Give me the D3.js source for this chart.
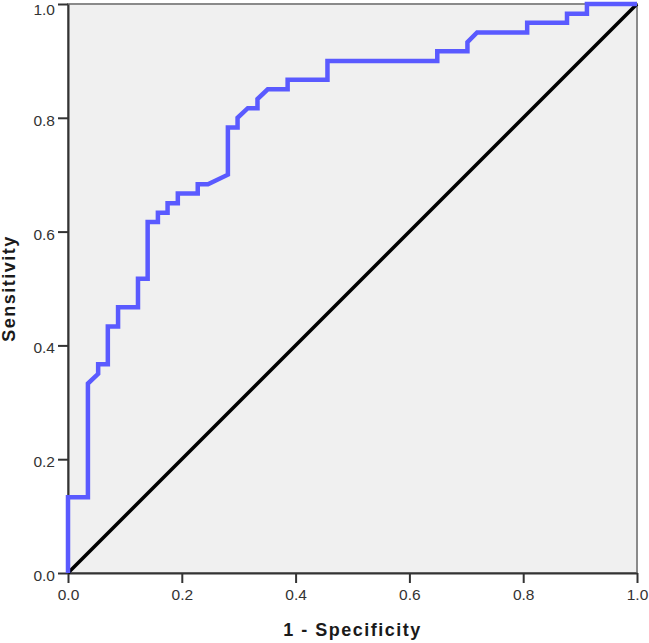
<!DOCTYPE html>
<html>
<head>
<meta charset="utf-8">
<script src="https://cdn.jsdelivr.net/npm/d3@7"></script>
<style>
  html, body { margin: 0; padding: 0; background: #fff; }
  svg { display: block; font-family: "Liberation Sans", Arial, sans-serif; }
</style>
</head>
<body>
<svg id="roc"></svg>
<script>
// ROC curve vertices (1 - specificity, sensitivity)
const fpr = [0, 0, 0.035, 0.035, 0.053, 0.053, 0.070, 0.070, 0.088, 0.088,
  0.123, 0.123, 0.140, 0.140, 0.158, 0.158, 0.175, 0.175, 0.193, 0.193,
  0.228, 0.228, 0.246, 0.281, 0.281, 0.298, 0.298, 0.316, 0.333, 0.333,
  0.351, 0.386, 0.386, 0.456, 0.456, 0.649, 0.649, 0.702, 0.702, 0.719,
  0.807, 0.807, 0.877, 0.877, 0.912, 0.912, 1];
const tpr = [0, 0.133, 0.133, 0.333, 0.350, 0.367, 0.367, 0.433, 0.433, 0.467,
  0.467, 0.517, 0.517, 0.617, 0.617, 0.633, 0.633, 0.650, 0.650, 0.667,
  0.667, 0.683, 0.683, 0.700, 0.783, 0.783, 0.800, 0.817, 0.817, 0.833,
  0.850, 0.850, 0.867, 0.867, 0.900, 0.900, 0.917, 0.917, 0.933, 0.950,
  0.950, 0.967, 0.967, 0.983, 0.983, 1, 1];
const refLine = [0, 1];
const ticks = [0, 0.2, 0.4, 0.6, 0.8, 1.0];

const width = 649, height = 643;
const plot = { left: 68, top: 4, right: 637, bottom: 573 };

const svg = d3.select("#roc")
  .attr("width", width)
  .attr("height", height);

const x = d3.scaleLinear().domain([0, 1]).range([plot.left, plot.right]);
const y = d3.scaleLinear().domain([0, 1]).range([plot.bottom, plot.top]);

// plot background + frame
svg.append("rect")
  .attr("x", plot.left).attr("y", plot.top)
  .attr("width", plot.right - plot.left)
  .attr("height", plot.bottom - plot.top)
  .attr("fill", "#f0f0f0")
  .attr("stroke", "#8a8a8a")
  .attr("stroke-width", 2);

// axes
const xAxis = d3.axisBottom(x).tickValues(ticks).tickFormat(d3.format(".1f"))
  .tickSize(10).tickSizeOuter(0).tickPadding(6);
const yAxis = d3.axisLeft(y).tickValues(ticks).tickFormat(d3.format(".1f"))
  .tickSize(10).tickSizeOuter(0).tickPadding(3);

const gx = svg.append("g")
  .attr("transform", `translate(0,${plot.bottom})`)
  .call(xAxis);
const gy = svg.append("g")
  .attr("transform", `translate(${plot.left},0)`)
  .call(yAxis);

[gx, gy].forEach(g => {
  g.select(".domain").attr("stroke", "#333").attr("stroke-width", 2);
  g.selectAll(".tick line").attr("stroke", "#333").attr("stroke-width", 2);
  g.selectAll(".tick text")
    .attr("fill", "#333")
    .style("font-size", "15.5px")
    .style("font-family", "'Liberation Sans', Arial, sans-serif");
});
// y labels sit a little below their ticks; keep the top one inside the page
gy.selectAll(".tick text").attr("y", d => d === 1 ? 5.5 : 2.5);

// reference diagonal
svg.append("line")
  .attr("x1", x(refLine[0])).attr("y1", y(refLine[0]))
  .attr("x2", x(refLine[1])).attr("y2", y(refLine[1]))
  .attr("stroke", "#000")
  .attr("stroke-width", 3.5);

// ROC curve
const pts = fpr.map((f, i) => [f, tpr[i]]);
const line = d3.line().x(d => x(d[0])).y(d => y(d[1]));

svg.append("path")
  .datum(pts)
  .attr("d", line)
  .attr("fill", "none")
  .attr("stroke", "#5a5aff")
  .attr("stroke-width", 4.5)
  .attr("stroke-linejoin", "miter");

// axis titles
svg.append("text")
  .attr("x", (plot.left + plot.right) / 2)
  .attr("y", 636)
  .attr("text-anchor", "middle")
  .attr("font-size", "18px")
  .attr("letter-spacing", "1.5px")
  .attr("font-weight", "bold")
  .attr("fill", "#1a1a1a")
  .text("1 - Specificity");

svg.append("text")
  .attr("transform", `translate(15,${(plot.top + plot.bottom) / 2}) rotate(-90)`)
  .attr("text-anchor", "middle")
  .attr("font-size", "18px")
  .attr("letter-spacing", "1.5px")
  .attr("font-weight", "bold")
  .attr("fill", "#1a1a1a")
  .text("Sensitivity");
</script>
</body>
</html>
